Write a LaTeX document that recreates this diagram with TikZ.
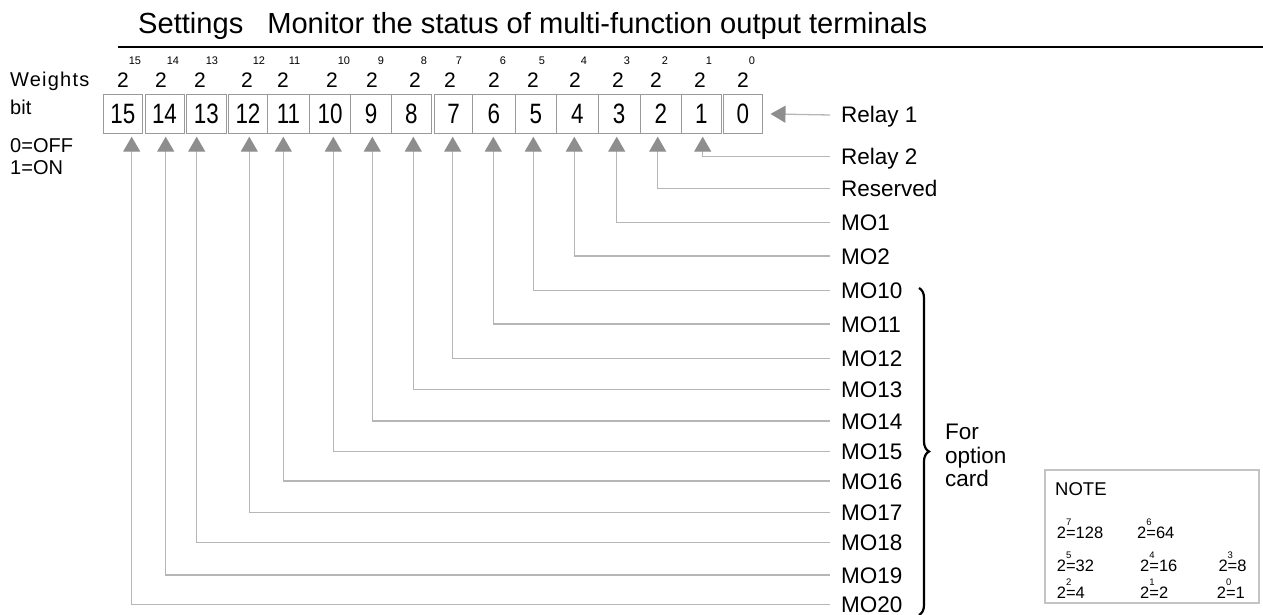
\documentclass[tikz,border=0pt]{standalone}
\usepackage{fontspec}
\setmainfont{Liberation Sans}
\newfontfamily\narrowfont[FakeStretch=0.8]{Liberation Sans}
\usetikzlibrary{arrows.meta,decorations.pathreplacing}
\definecolor{boxgray}{HTML}{9A9A9A}
\definecolor{linegray}{HTML}{B6B6B6}
\definecolor{tipgray}{HTML}{8E8E8E}
\definecolor{notegray}{HTML}{C4C4C4}
\newcommand{\powtwo}[2]{2\rlap{\raisebox{13pt}{\fontsize{9.5}{9.5}\selectfont #1}}#2}
\tikzset{
  bitbox/.style={draw=boxgray, line width=1pt, minimum height=39pt, inner sep=0pt, text height=20pt, text depth=0pt, font=\narrowfont\fontsize{28}{28}\selectfont},
  weight/.style={anchor=base, inner sep=0pt, font=\fontsize{21}{21}\selectfont},
  outlabel/.style={anchor=west, inner xsep=11pt, inner ysep=0pt, text height=16pt, text depth=0pt, font=\fontsize{22.5}{22.5}\selectfont},
  feed/.style={draw=linegray, line width=1.3pt, -{Triangle[length=15pt, width=17pt, color=tipgray, fill=tipgray]}},
  sidetext/.style={anchor=base west, inner sep=0pt, font=\fontsize{20}{23}\selectfont},
  notetext/.style={anchor=base west, inner sep=0pt, font=\fontsize{16.5}{16.5}\selectfont},
  optbrace/.style={decorate, decoration={brace, amplitude=10pt}, line width=2.2pt}
}

\begin{document}
\begin{tikzpicture}[x=1pt, y=-1pt]
  \useasboundingbox (0,0) rectangle (1263,615);
  % heading
  \node[anchor=base west, inner sep=0pt, font=\fontsize{29.1}{29.1}\selectfont] (title) at (138,33.3) {Settings\hspace{24pt}Monitor the status of multi-function output terminals};
  \draw[line width=2pt] (118,46.7) -- (1263,46.7);
  \node[sidetext] (wlabel) at (10,86.7) {\addfontfeature{LetterSpace=6}Weights};
  \node[sidetext] (bitlabel) at (10,115) {bit};
  \node[sidetext] (offlabel) at (10,152) {0=OFF};
  \node[sidetext] (onlabel) at (10,175) {1=ON};
  % bit boxes and weights
  \foreach \b/\l/\r/\w in {15/103/142.7/123, 14/145/184/161, 13/186/226.7/200, 12/228.3/267.7/247,
      11/267.7/309.3/283, 10/309.3/350.7/332, 9/350.7/391.7/372, 8/391.7/431/415,
      7/434.3/472.7/450, 6/472.7/515/494, 5/515/556.7/533, 4/556.7/598/575,
      3/598/640/618, 2/640/681.7/656, 1/681.7/721/700, 0/723.3/762.3/743}{
    \node[bitbox, minimum width={(\r-\l)*1pt}] (b\b) at ({(\l+\r)/2},113.8) {\b};
    \node[weight] (w\b) at (\w,88) {2\rlap{\raisebox{23pt}{\fontsize{11}{11}\selectfont\b}}};
  }
  % outputs
  \node[outlabel] (lab0) at (830,115) {Relay 1};
  \draw[feed, shorten >=7.7pt] (lab0.west) -- (b0.east);
  \foreach \b/\y/\txt/\ax in {1/156.7/Relay 2/702.7, 2/188.3/Reserved/657.7, 3/222.7/MO1/616.7,
      4/256/MO2/574.3, 5/290.5/MO10/533.3, 6/324/MO11/493.3, 7/358.3/MO12/452.7,
      8/389.3/MO13/413.3, 9/421/MO14/372.3, 10/451.7/MO15/333.3, 11/481/MO16/283.3,
      12/512.5/MO17/249.3, 13/542.5/MO18/196.7, 14/575/MO19/165.7, 15/604.5/MO20/131.7}{
    \node[outlabel] (lab\b) at (830,\y) {\txt};
    \coordinate (t\b) at (\ax,136.7);
    \draw[feed] (lab\b.west) -| (t\b);
  }
  \draw[optbrace] (919,288) -- (919,615);
  \node[anchor=west, align=left, inner sep=0pt, font=\fontsize{22.5}{23.5}\selectfont] (optcard) at (945,455.5) {For\\option\\card};
  % note
  \node[draw=notegray, line width=2pt, minimum width=214.3pt, minimum height=133.3pt, inner sep=0pt] (notebox) at (1152.2,536.7) {};
  \node[notetext, font=\fontsize{18.5}{18.5}\selectfont] (notehead) at (1055,495) {NOTE};
  \node[notetext] (n7) at (1056.7,538.3) {\powtwo{7}{=128}};
  \node[notetext] (n6) at (1137,538.3) {\powtwo{6}{=64}};
  \node[notetext] (n5) at (1056.7,571.7) {\powtwo{5}{=32}};
  \node[notetext] (n4) at (1140,571.7) {\powtwo{4}{=16}};
  \node[notetext] (n3) at (1218.3,571.7) {\powtwo{3}{=8}};
  \node[notetext] (n2) at (1056.7,598.3) {\powtwo{2}{=4}};
  \node[notetext] (n1) at (1140,598.3) {\powtwo{1}{=2}};
  \node[notetext] (n0) at (1216.7,598.3) {\powtwo{0}{=1}};
\end{tikzpicture}
\end{document}
